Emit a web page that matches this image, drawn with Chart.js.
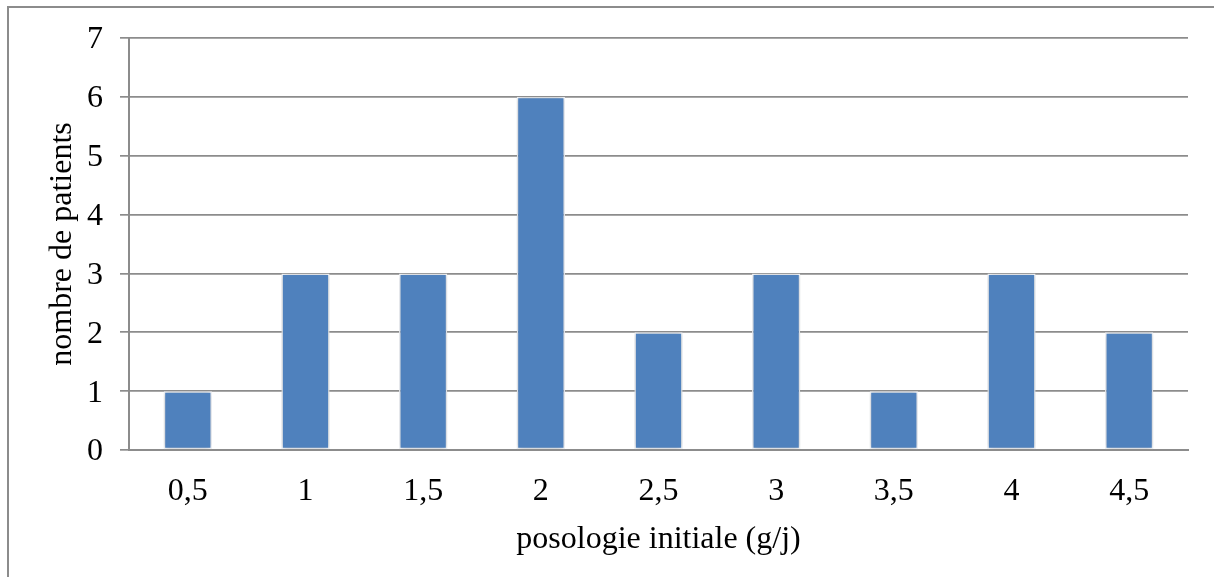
<!DOCTYPE html>
<html>
<head>
<meta charset="utf-8">
<script src="https://cdn.jsdelivr.net/npm/chart.js@4/dist/chart.umd.min.js"></script>
<style>
  html, body { margin: 0; padding: 0; background: #fff; }
  #wrap { position: relative; width: 1214px; height: 577px; overflow: hidden; }
  #frame { position: absolute; left: 7px; top: 6px; width: 1220px; height: 600px;
           border-left: 2px solid #8c8c8c; border-top: 2px solid #8c8c8c; box-sizing: border-box; }
  canvas { position: absolute; left: 0; top: 0; }
</style>
</head>
<body>
<div id="wrap">
  <div id="frame"></div>
  <canvas id="c" width="1214" height="577"></canvas>
</div>
<script>
// Dose groups (g/j) and patient counts
const categories = ['0,5', '1', '1,5', '2', '2,5', '3', '3,5', '4', '4,5'];
const patients = [1, 3, 3, 6, 2, 3, 1, 3, 2];
const yTicks = [0, 1, 2, 3, 4, 5, 6, 7];

const serif = "'Liberation Serif', 'DejaVu Serif', serif";
const gridGray = '#8c8c8c';

// soft drop shadow behind the bars
const barShadow = {
  id: 'barShadow',
  beforeDatasetsDraw(chart) {
    const ctx = chart.ctx;
    ctx.save();
    ctx.shadowColor = 'rgba(0,0,0,0.28)';
    ctx.shadowBlur = 5;
    ctx.shadowOffsetX = 0;
    ctx.shadowOffsetY = 0;
  },
  afterDatasetsDraw(chart) {
    chart.ctx.restore();
  }
};

new Chart(document.getElementById('c'), {
  type: 'bar',
  data: {
    labels: categories,
    datasets: [{
      data: patients,
      backgroundColor: '#4f81bd',
      borderColor: '#f4f7fb',
      borderWidth: 1.5,
      borderSkipped: false,
      categoryPercentage: 1,
      barPercentage: 0.41
    }]
  },
  options: {
    responsive: false,
    animation: false,
    layout: { padding: { top: 38, right: 26, left: 0, bottom: 0 } },
    plugins: { legend: { display: false }, tooltip: { enabled: false } },
    scales: {
      x: {
        grid: { display: false, drawTicks: false },
        border: { display: true, color: gridGray, width: 2 },
        ticks: { color: '#000', font: { family: serif, size: 32 }, padding: 22, maxRotation: 0 },
        title: {
          display: true, text: 'posologie initiale (g/j)', color: '#000',
          font: { family: serif, size: 32 }, padding: { bottom: 18 }
        },
        afterFit(scale) { scale.height = 127; }
      },
      y: {
        min: 0, max: 7,
        afterBuildTicks(scale) { scale.ticks = yTicks.map(v => ({ value: v })); },
        grid: { color: gridGray, lineWidth: 1.7, tickLength: 9, drawTicks: true },
        border: { display: true, color: gridGray, width: 2 },
        ticks: { color: '#000', font: { family: serif, size: 32 }, padding: 17, labelOffset: 2 },
        title: {
          display: true, text: 'nombre de patients', color: '#000',
          font: { family: serif, size: 32 }, padding: { top: 43 }
        },
        afterFit(scale) { scale.width = 129; }
      }
    }
  },
  plugins: [barShadow]
});
</script>
</body>
</html>
